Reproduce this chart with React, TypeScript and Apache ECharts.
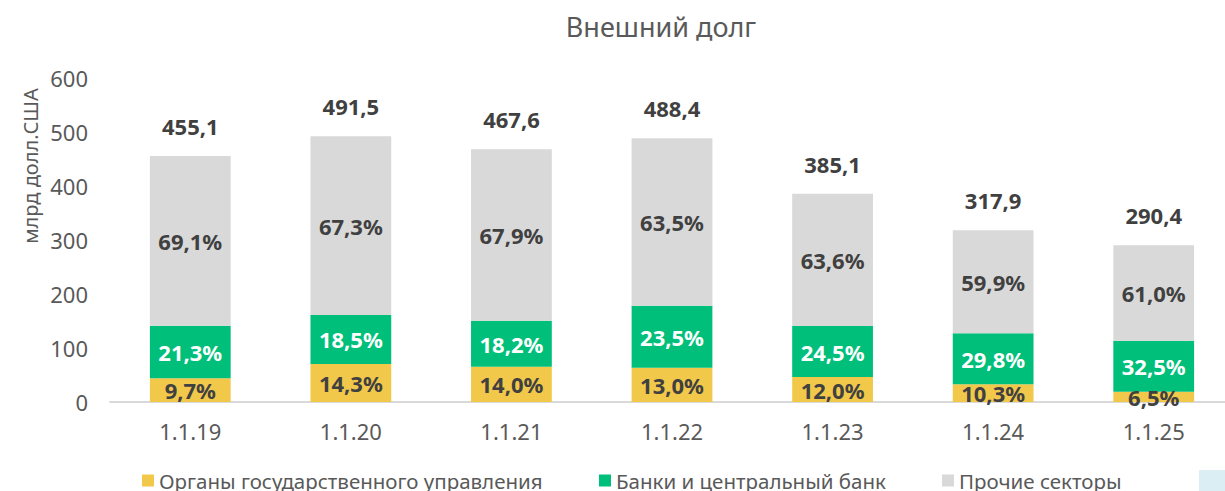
import React, { useEffect, useRef } from "react";
import * as echarts from "echarts";

const categories = ["1.1.19", "1.1.20", "1.1.21", "1.1.22", "1.1.23", "1.1.24", "1.1.25"];
const totals = [455.1, 491.5, 467.6, 488.4, 385.1, 317.9, 290.4];
const govPct = [9.7, 14.3, 14.0, 13.0, 12.0, 10.3, 6.5];
const bankPct = [21.3, 18.5, 18.2, 23.5, 24.5, 29.8, 32.5];
const otherPct = [69.1, 67.3, 67.9, 63.5, 63.6, 59.9, 61.0];
const yTicks = [0, 100, 200, 300, 400, 500, 600];
const seriesNames = ["Органы государственного управления", "Банки и центральный банк", "Прочие секторы"];

const FONT = "'Noto Sans', sans-serif";
const fmt = (v: number) => v.toFixed(1).replace(".", ",");

export default function App() {
  const ref = useRef<HTMLDivElement>(null);
  useEffect(() => {
    const chart = echarts.init(ref.current!, null, { renderer: "svg" });
    const seg = (pcts: number[]) => totals.map((t, i) => (t * pcts[i]) / 100);
    const pctLabel = (arr: number[], color: string) => ({
      show: true,
      position: "inside",
      color,
      fontWeight: "bold",
      fontSize: 22,
      fontFamily: FONT,
      formatter: (p: any) => fmt(arr[p.dataIndex]) + "%",
    });
    const legendLefts = [137, 594, 937];
    chart.setOption({
      animation: false,
      title: {
        text: "Внешний долг",
        left: 656,
        top: 8,
        textAlign: "center",
        textStyle: { color: "#595959", fontSize: 27, fontWeight: "normal", fontFamily: FONT },
      },
      legend: seriesNames.map((n, i) => ({
        bottom: -5,
        left: legendLefts[i],
        itemGap: 0,
        itemWidth: 12,
        itemHeight: 12,
        icon: "rect",
        textStyle: { color: "#595959", fontSize: 20.5, fontFamily: FONT },
        data: [n],
      })),
      grid: { left: 110, top: 78, width: 1124, height: 324 },
      xAxis: {
        type: "category",
        data: categories,
        axisLine: { lineStyle: { color: "#D9D9D9", width: 2 } },
        axisTick: { show: false },
        axisLabel: { color: "#595959", fontSize: 22, fontFamily: FONT, margin: 18 },
      },
      yAxis: {
        type: "value",
        min: yTicks[0],
        max: yTicks[yTicks.length - 1],
        interval: 100,
        splitLine: { show: false },
        axisLine: { show: false },
        axisTick: { show: false },
        axisLabel: { color: "#595959", fontSize: 22, fontFamily: FONT, margin: 22 },
      },
      graphic: [
        {
          type: "text",
          x: 30,
          y: 166,
          rotation: Math.PI / 2,
          style: {
            text: "млрд долл.США",
            fill: "#595959",
            fontSize: 20,
            fontFamily: FONT,
            textAlign: "center",
            textVerticalAlign: "middle",
          },
        },
        { type: "rect", shape: { x: 1199, y: 470, width: 26, height: 21 }, style: { fill: "#DAEEF3" } },
      ],
      series: [
        {
          name: seriesNames[0],
          type: "bar",
          stack: "s",
          barWidth: "50.3%",
          itemStyle: { color: "#F2C84B" },
          label: pctLabel(govPct, "#404040"),
          data: seg(govPct),
        },
        {
          name: seriesNames[1],
          type: "bar",
          stack: "s",
          itemStyle: { color: "#00BF7A" },
          label: pctLabel(bankPct, "#FFFFFF"),
          data: seg(bankPct),
        },
        {
          name: seriesNames[2],
          type: "bar",
          stack: "s",
          itemStyle: { color: "#D9D9D9" },
          label: pctLabel(otherPct, "#404040"),
          data: seg(otherPct),
        },
        {
          name: "total",
          type: "bar",
          stack: "s",
          data: totals.map(() => 0),
          itemStyle: { color: "transparent" },
          label: {
            show: true,
            position: "top",
            distance: 19,
            color: "#404040",
            fontWeight: "bold",
            fontSize: 22,
            fontFamily: FONT,
            formatter: (p: any) => fmt(totals[p.dataIndex]),
          },
        },
      ],
    });
    return () => chart.dispose();
  }, []);
  return (
    <div style={{ width: 1225, height: 491, position: "absolute", left: 0, top: 0, overflow: "hidden" }}>
      <div ref={ref} style={{ width: 1250, height: 491 }} />
    </div>
  );
}
